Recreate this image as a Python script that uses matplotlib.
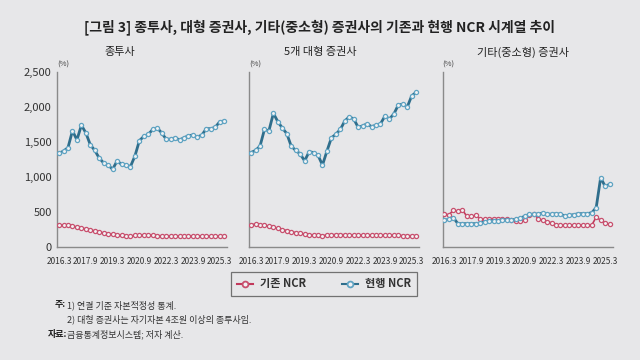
import matplotlib
matplotlib.use("Agg")
import matplotlib.pyplot as plt
from matplotlib.lines import Line2D

plt.rcParams['font.family'] = ['Noto Sans CJK KR', 'DejaVu Sans']

x_ticklabels = ["2016.3", "2017.9", "2019.3", "2020.9", "2022.3", "2023.9", "2025.3"]
y_ticks = [0, 500, 1000, 1500, 2000, 2500]
y_ticklabels = ["0", "500", "1,000", "1,500", "2,000", "2,500"]

panel_titles = ["종투사", "5개 대형 증권사", "기타(중소형) 증권사"]
series_names = ["기존 NCR", "현행 NCR"]

# Panel 1: 종투사
p1_old = [310, 315, 310, 300, 285, 270, 260, 245, 230, 215, 200, 190, 180, 170, 165, 160, 158, 165, 170,
          172, 170, 165, 162, 160, 158, 158, 158, 158, 158, 158, 158, 158, 158, 156, 155, 155, 155, 152]
p1_new = [1340, 1370, 1420, 1660, 1530, 1740, 1630, 1460, 1380, 1270, 1200, 1170, 1110, 1230, 1180, 1170,
          1150, 1300, 1520, 1580, 1610, 1680, 1700, 1630, 1540, 1540, 1560, 1530, 1560, 1590, 1600, 1570,
          1600, 1690, 1690, 1710, 1790, 1800]
# Panel 2: 5개 대형 증권사
p2_old = [320, 325, 320, 310, 295, 280, 265, 250, 235, 220, 205, 195, 185, 178, 172, 165, 160, 170, 175,
          178, 178, 175, 170, 168, 165, 165, 165, 165, 165, 165, 165, 165, 165, 165, 163, 162, 162, 162]
p2_new = [1350, 1380, 1440, 1680, 1660, 1910, 1790, 1700, 1620, 1440, 1380, 1330, 1230, 1360, 1350, 1310,
          1170, 1370, 1560, 1610, 1680, 1800, 1860, 1830, 1710, 1730, 1760, 1720, 1740, 1760, 1870, 1830,
          1900, 2030, 2040, 2000, 2160, 2210]
# Panel 3: 기타(중소형) 증권사
p3_old = [467, 462, 524, 514, 533, 438, 438, 452, 405, 395, 405, 405, 405, 405, 395, 392, 371, 371, 381,
          452, 476, 405, 381, 357, 348, 319, 310, 310, 310, 310, 312, 312, 308, 310, 429, 381, 343, 324]
p3_new = [381, 395, 419, 333, 333, 333, 333, 333, 343, 357, 371, 371, 376, 381, 386, 386, 395, 414, 438,
          467, 467, 467, 486, 471, 467, 476, 467, 443, 452, 462, 476, 476, 476, 490, 562, 990, 867, 895]

panels = [(p1_old, p1_new), (p2_old, p2_new), (p3_old, p3_new)]

bg = "#e7e7e9"
red_line = "#c23a5c"
red_edge = "#c8506e"
blue_line = "#2f6e8c"
blue_edge = "#5fa3c2"
spine_c = "#8a8a8a"

fig = plt.figure(figsize=(6.4, 3.6), dpi=100, facecolor=bg)

fig.text(0.5, 1 - 27 / 360, "[그림 3] 종투사, 대형 증권사, 기타(중소형) 증권사의 기존과 현행 NCR 시계열 추이",
         ha="center", va="center", fontsize=10, fontweight="bold", color="#222222")

lefts = [57.3, 249.3, 442.7]
title_x = [120, 320, 523]
W = 170
for k, (old, new) in enumerate(panels):
    ax = fig.add_axes([lefts[k] / 640, (360 - 247) / 360, W / 640, 175 / 360])
    ax.set_facecolor(bg)
    xs = list(range(len(old)))
    ax.plot(xs, old, color=red_line, lw=1.2, marker="o", ms=3.0, mfc="#f2f2f4", mec=red_edge, mew=0.9,
            zorder=3)
    ax.plot(xs, new, color=blue_line, lw=2.0, marker="o", ms=3.0, mfc="#f2f2f4", mec=blue_edge, mew=0.9,
            zorder=4)
    ax.set_xlim(-0.4, 37.7)
    ax.set_ylim(0, 2500)
    ax.set_xticks(range(0, 37, 6))
    ax.set_xticklabels(x_ticklabels, fontsize=6, color="#333333")
    ax.set_yticks(y_ticks)
    if k == 0:
        ax.set_yticklabels(y_ticklabels, fontsize=8, color="#333333")
    else:
        ax.set_yticklabels([])
    ax.tick_params(axis="y", length=0, pad=4)
    ax.tick_params(axis="x", length=0, pad=7)
    for s in ["top", "right"]:
        ax.spines[s].set_visible(False)
    for s in ["left", "bottom"]:
        ax.spines[s].set_color(spine_c)
        ax.spines[s].set_linewidth(1.0)
    ax.text(0.0, 1.02, "(%)", transform=ax.transAxes, fontsize=5.5, color="#444444", ha="left", va="bottom")
    fig.text(title_x[k] / 640, 1 - 52 / 360, panel_titles[k], ha="center", va="center", fontsize=8,
             color="#222222")

handles = [Line2D([0], [0], color=red_line, lw=1.5, marker="o", ms=4.2, mfc="#f2f2f4", mec=red_edge, mew=1.3),
           Line2D([0], [0], color=blue_line, lw=1.5, marker="o", ms=4.2, mfc="#f2f2f4", mec=blue_edge, mew=1.3)]
leg = fig.legend(handles, series_names, loc="center", bbox_to_anchor=(324 / 640, 1 - 284 / 360), ncol=2,
                 frameon=True, fontsize=8, handlelength=1.5, columnspacing=3.2, handletextpad=0.6,
                 borderpad=0.5, borderaxespad=0, fancybox=False)
leg.get_frame().set_edgecolor("#555555")
leg.get_frame().set_facecolor(bg)
leg.get_frame().set_linewidth(0.9)
for t in leg.get_texts():
    t.set_fontweight("bold")
    t.set_color("#333333")

fig.text(55 / 640, 1 - 305 / 360, "주:", fontsize=6.5, fontweight="bold", color="#222222", va="center")
fig.text(67 / 640, 1 - 305 / 360, "1) 연결 기준 자본적정성 통계.", fontsize=6.5, color="#333333", va="center")
fig.text(67 / 640, 1 - 319 / 360, "2) 대형 증권사는 자기자본 4조원 이상의 종투사임.", fontsize=6.5, color="#333333",
         va="center")
fig.text(48 / 640, 1 - 334 / 360, "자료:", fontsize=6.5, fontweight="bold", color="#222222", va="center")
fig.text(67 / 640, 1 - 334 / 360, "금융통계정보시스템; 저자 계산.", fontsize=6.5, color="#333333", va="center")

fig.savefig("out.png", dpi=100, facecolor=bg)
